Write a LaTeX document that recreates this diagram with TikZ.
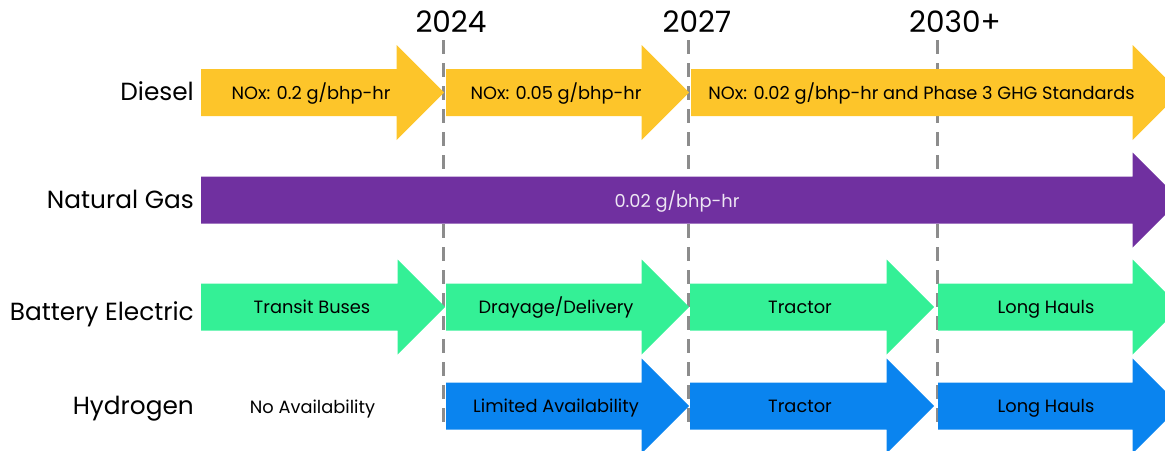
\documentclass[tikz,border=0pt]{standalone}
\usepackage{fontspec}
\setmainfont{Poppins}
\definecolor{dieselc}{HTML}{FDC52A}
\definecolor{gasc}{HTML}{7030A0}
\definecolor{bevc}{HTML}{34F096}
\definecolor{h2c}{HTML}{0A84EF}
\definecolor{dashc}{HTML}{8C8C8C}
\definecolor{gastext}{HTML}{EDE6F3}
\tikzset{
 yearlbl/.style={font=\fontsize{29.5}{32}\selectfont, text=black, inner sep=0pt, anchor=base},
 rowlbl/.style={font=\fontsize{24.8}{27}\selectfont, anchor=base east, inner sep=0pt},
 inlbl/.style={font=\fontsize{17.8}{20}\selectfont, inner sep=0pt, anchor=base},
 yeardash/.style={draw=dashc, line width=3pt, dash pattern=on 14pt off 9pt},
}
\newcommand\blockarrow[4]{%
 \fill[#1] (#2,#4-23.5) -- (#3-47.5,#4-23.5) -- (#3-47.5,#4-47.5) -- (#3,#4) -- (#3-47.5,#4+47.5) -- (#3-47.5,#4+23.5) -- (#2,#4+23.5) -- cycle;}
\begin{document}
\begin{tikzpicture}[x=1pt,y=-1pt]
\useasboundingbox (0,0) rectangle (1165,450);
\clip (0,0) rectangle (1165,450);
% year labels
\node[yearlbl] (y24) at (451,32) {2024};
\node[yearlbl] (y27) at (697,32) {2027};
\node[yearlbl] (y30) at (955,32) {2030+};
% dashed guide lines
\coordinate (d24t) at (443,40); \coordinate (d24b) at (443,428);
\coordinate (d27t) at (688,40); \coordinate (d27b) at (688,428);
\coordinate (d30t) at (937,40); \coordinate (d30b) at (937,428);
\draw[yeardash] (d24t) -- (d24b);
\draw[yeardash] (d27t) -- (d27b);
\draw[yeardash] (d30t) -- (d30b);
% Diesel
\blockarrow{dieselc}{201}{444}{92.5}
\blockarrow{dieselc}{446}{689}{92.5}
\blockarrow{dieselc}{691}{1180}{92.5}
% Natural gas
\blockarrow{gasc}{201}{1180}{200}
% Battery electric
\blockarrow{bevc}{201}{445}{307}
\blockarrow{bevc}{446}{689}{307}
\blockarrow{bevc}{690}{934}{307}
\blockarrow{bevc}{938}{1180}{307}
% Hydrogen
\blockarrow{h2c}{446}{689}{406}
\blockarrow{h2c}{690}{934}{406}
\blockarrow{h2c}{938}{1180}{406}
% row labels
\node[rowlbl] (lDiesel) at (194,100) {Diesel};
\node[rowlbl] (lGas) at (194,208) {Natural Gas};
\node[rowlbl] (lBev) at (194,320) {Battery Electric};
\node[rowlbl] (lH2) at (194,414) {Hydrogen};
% inner labels
\node[inlbl] (dA) at (311,99) {NOx: 0.2 g/bhp-hr};
\node[inlbl] (dB) at (556,99) {NOx: 0.05 g/bhp-hr};
\node[inlbl] (dC) at (921.5,99) {NOx: 0.02 g/bhp-hr and Phase 3 GHG Standards};
\node[inlbl, text=gastext] (gA) at (677,207) {0.02 g/bhp-hr};
\node[inlbl] (bA) at (312,313) {Transit Buses};
\node[inlbl] (bB) at (556,313) {Drayage/Delivery};
\node[inlbl] (bC) at (800,313) {Tractor};
\node[inlbl] (bD) at (1046,313) {Long Hauls};
\node[inlbl] (hA) at (312.5,413) {No Availability};
\node[inlbl] (hB) at (556,412) {Limited Availability};
\node[inlbl] (hC) at (800,412) {Tractor};
\node[inlbl] (hD) at (1046,412) {Long Hauls};
\end{tikzpicture}
\end{document}
